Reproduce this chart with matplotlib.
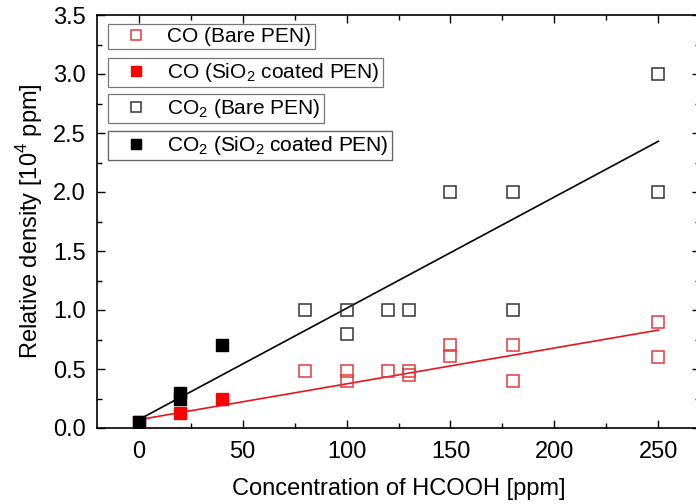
import matplotlib
matplotlib.use("Agg")
import matplotlib.pyplot as plt
from matplotlib.lines import Line2D
from matplotlib.ticker import MultipleLocator

plt.rcParams['font.family'] = ['Liberation Sans', 'DejaVu Sans']
plt.rcParams['mathtext.fontset'] = 'custom'
plt.rcParams['mathtext.rm'] = 'Liberation Sans'

# Data
co_bare_x = [80, 100, 100, 120, 130, 130, 150, 150, 180, 180, 250, 250]
co_bare_y = [0.48, 0.48, 0.40, 0.48, 0.48, 0.45, 0.70, 0.61, 0.70, 0.40, 0.90, 0.60]
co_sio2_x = [0, 20, 40]
co_sio2_y = [0.05, 0.13, 0.25]
co2_bare_x = [80, 100, 100, 120, 130, 150, 180, 180, 250, 250]
co2_bare_y = [1.0, 1.0, 0.8, 1.0, 1.0, 2.0, 2.0, 1.0, 3.0, 2.0]
co2_sio2_x = [0, 20, 20, 40]
co2_sio2_y = [0.05, 0.25, 0.30, 0.70]
fit_x = [0, 250]
co_fit_y = [0.07, 0.83]
co2_fit_y = [0.07, 2.43]

labels = ['CO (Bare PEN)', 'CO (SiO$_2$ coated PEN)',
          'CO$_2$ (Bare PEN)', 'CO$_2$ (SiO$_2$ coated PEN)']

fig = plt.figure(figsize=(6.96, 5.04), dpi=100)
ax = fig.add_axes([97/696, 76/504, 603/696, 413/504])

ms = 8
ax.plot(fit_x, co2_fit_y, color='black', lw=1.2, zorder=1)
ax.plot(fit_x, co_fit_y, color='#e8141a', lw=1.2, zorder=1)
ax.plot(co_bare_x, co_bare_y, 's', ms=ms, mfc='none', mec='#e03a3a', mew=1.1, zorder=3)
ax.plot(co2_bare_x, co2_bare_y, 's', ms=ms, mfc='none', mec='#333333', mew=1.1, zorder=3)
ax.plot(co_sio2_x, co_sio2_y, 's', ms=ms, mfc='#ff0000', mec='#ff0000', mew=1.0, zorder=4)
ax.plot(co2_sio2_x, co2_sio2_y, 's', ms=ms, mfc='black', mec='black', mew=1.0, zorder=5)

ax.set_xlim(-20, 270)
ax.set_ylim(0, 3.5)
ax.xaxis.set_major_locator(MultipleLocator(50))
ax.xaxis.set_minor_locator(MultipleLocator(25))
ax.yaxis.set_major_locator(MultipleLocator(0.5))
ax.yaxis.set_minor_locator(MultipleLocator(0.25))
ax.yaxis.set_major_formatter(matplotlib.ticker.FormatStrFormatter('%.1f'))
ax.tick_params(which='both', direction='in', top=True, right=True, labelsize=17, width=1)
ax.tick_params(which='major', length=6)
ax.tick_params(which='minor', length=3.5)
ax.tick_params(axis='x', which='major', pad=9)
ax.tick_params(axis='y', which='major', pad=8)
for s in ax.spines.values():
    s.set_linewidth(1.2)

ax.set_xlabel('Concentration of HCOOH [ppm]', fontsize=17, labelpad=11)
ax.set_ylabel('Relative density [10$^4$ ppm]', fontsize=17, labelpad=6)

handles = [
    Line2D([], [], ls='none', marker='s', ms=7, mfc='none', mec='#e03a3a', mew=1.1),
    Line2D([], [], ls='none', marker='s', ms=7, mfc='#ff0000', mec='#ff0000'),
    Line2D([], [], ls='none', marker='s', ms=7, mfc='none', mec='#333333', mew=1.1),
    Line2D([], [], ls='none', marker='s', ms=7, mfc='black', mec='black'),
]
tops = [24, 58, 94, 131]
for h, lab, t in zip(handles, labels, tops):
    leg = ax.legend([h], [lab], loc='upper left',
                    bbox_to_anchor=(108/696, 1 - t/504), bbox_transform=fig.transFigure,
                    fontsize=15, frameon=True, fancybox=False, borderpad=0.15,
                    handletextpad=0.3, handlelength=2.4, borderaxespad=0)
    leg.get_frame().set_edgecolor('#555555')
    leg.get_frame().set_linewidth(0.9)
    ax.add_artist(leg)

fig.savefig('out.png', dpi=100)
